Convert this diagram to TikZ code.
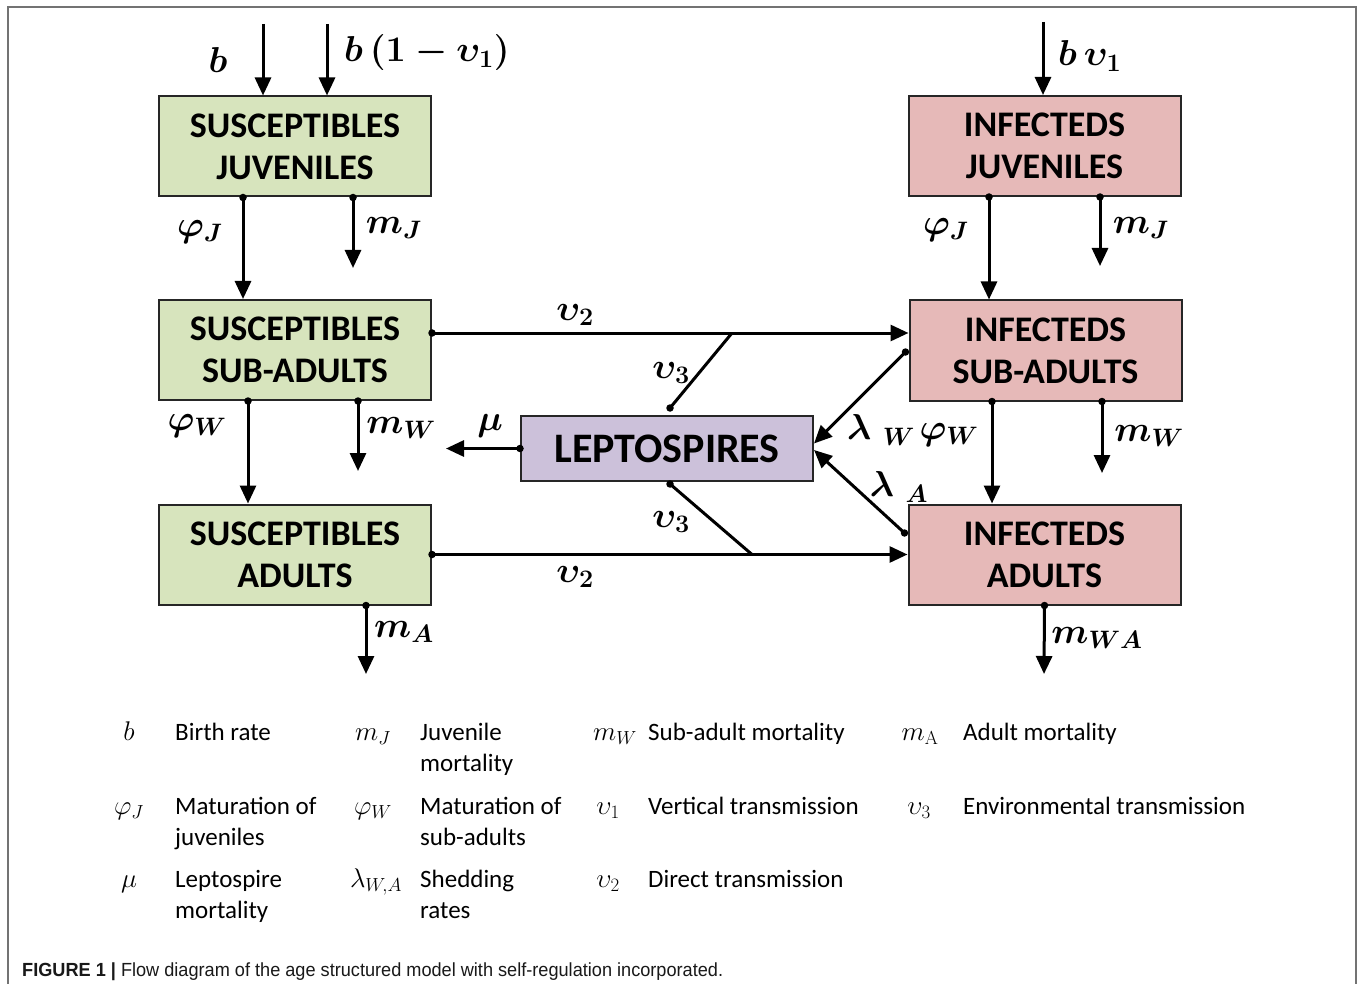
\RequirePackage{fix-cm}
\documentclass[tikz,border=0pt]{standalone}
\usepackage{amsmath}
\usepackage[no-math]{fontspec}
\setmainfont{Carlito}
\newfontfamily\capfont[FakeStretch=0.955]{Liberation Sans}
\usetikzlibrary{arrows.meta}
\definecolor{susc}{HTML}{D7E4BD}
\definecolor{infc}{HTML}{E6B9B8}
\definecolor{lepc}{HTML}{CCC1DA}
\definecolor{edge}{HTML}{262626}
\begin{document}
\begin{tikzpicture}[x=1pt,y=-1pt,
  box/.style={draw=edge,line width=2pt,minimum width=272pt,minimum height=100pt,align=center,inner sep=0pt,
    font=\fontsize{36}{42}\selectfont\bfseries},
  sus/.style={box,fill=susc},
  inf/.style={box,fill=infc},
  flow/.style={line width=3pt,-{Triangle[length=18pt,width=16pt]}},
  link/.style={line width=3pt},
  sdot/.style={circle,fill,inner sep=0pt,minimum size=7.5pt},
  lab/.style={inner sep=0pt,font=\fontsize{36}{42}\selectfont\boldmath},
  legt/.style={anchor=base west,inner sep=0pt,font=\fontsize{25}{31}\selectfont},
  legm/.style={anchor=base,inner sep=0pt,font=\fontsize{27}{31}\selectfont}]
\useasboundingbox (0,0) rectangle (1360,984);
\fill[white] (0,0) rectangle (1360,984);
\draw[black!55,line width=1.5pt] (8,984) -- (8,7) -- (1356,7) -- (1356,984);

% compartments
\node[sus] (sj) at (295,146.5) {SUSCEPTIBLES\\JUVENILES};
\node[sus] (ss) at (295,350) {SUSCEPTIBLES\\SUB-ADULTS};
\node[sus] (sa) at (295,554.5) {SUSCEPTIBLES\\ADULTS};
\node[inf] (ij) at (1044.5,146) {INFECTEDS\\JUVENILES};
\node[inf] (is) at (1045.5,350.5) {INFECTEDS\\SUB-ADULTS};
\node[inf] (ia) at (1044.5,554.5) {INFECTEDS\\ADULTS};
\node[box,fill=lepc,minimum width=292pt,minimum height=65pt,font=\fontsize{42}{48}\selectfont\bfseries] (lp) at (667,448.5) {LEPTOSPIRES};

% free ends
\coordinate (bS) at (263,24);
\coordinate (b1) at (327,24);
\coordinate (bI) at (1043,22);
\coordinate (mJs) at (353,268);
\coordinate (mJi) at (1100,266);
\coordinate (mWs) at (358,471);
\coordinate (mWi) at (1102,473);
\coordinate (mAs) at (366,674);
\coordinate (mWA) at (1044,674);
\coordinate (muE) at (446,448.5);
\coordinate (v3t) at (732,333);
\coordinate (v3b) at (752,554.5);

% births
\draw[flow] (bS) -- (bS |- sj.north);
\draw[flow] (b1) -- (b1 |- sj.north);
\draw[flow] (bI) -- (bI |- ij.north);

% maturation and mortality
\draw[flow] ([xshift=-52pt]sj.south) node[sdot]{} -- ([xshift=-52pt]ss.north);
\draw[flow] ([xshift=58pt]sj.south) node[sdot]{} -- (mJs);
\draw[flow] ([xshift=-47pt]ss.south) node[sdot]{} -- ([xshift=-47pt]sa.north);
\draw[flow] ([xshift=63pt]ss.south) node[sdot]{} -- (mWs);
\draw[flow] ([xshift=71pt]sa.south) node[sdot]{} -- (mAs);
\draw[flow] ([xshift=-55.5pt]ij.south) node[sdot]{} -- ([xshift=-56.5pt]is.north);
\draw[flow] ([xshift=55.5pt]ij.south) node[sdot]{} -- (mJi);
\draw[flow] ([xshift=-53.5pt]is.south) node[sdot]{} -- ([xshift=-52.5pt]ia.north);
\draw[flow] ([xshift=56.5pt]is.south) node[sdot]{} -- (mWi);
\draw[flow] (ia.south) node[sdot]{} -- (mWA);

% transmission
\draw[flow] ([yshift=17pt]ss.east) node[sdot]{} coordinate (v2s) -- (v2s -| is.west);
\draw[flow] (sa.east) node[sdot]{} -- (sa.east -| ia.west);
\draw[link] ([xshift=3pt,yshift=7pt]lp.north) node[sdot]{} -- (v3t);
\draw[link] ([xshift=3pt,yshift=-2pt]lp.south) node[sdot]{} -- (v3b);
\draw[flow] (lp.west) node[sdot]{} -- (muE);
\draw[flow] ([xshift=-3pt,yshift=-1.5pt]is.west) node[sdot]{} -- ([yshift=5pt]lp.east);
\draw[flow] ([xshift=-3pt,yshift=21.5pt]ia.west) node[sdot]{} -- ([yshift=-1.5pt]lp.east);

% rate labels
\node[lab] (Lb) at (218,60) {$b$};
\node[lab,anchor=west] (Lb1) at (344,53) {$b\,(1-\upsilon_1)$};
\node[lab,anchor=west] (LbI) at (1058,56) {$b\,\upsilon_1$};
\node[lab] (LpJs) at (200,232) {$\varphi_J$};
\node[lab] (LmJs) at (394,228) {$m_J$};
\node[lab] (LpJi) at (946,230) {$\varphi_J$};
\node[lab] (LmJi) at (1141,228) {$m_J$};
\node[lab] (LpWs) at (197,426) {$\varphi_W$};
\node[lab] (LmWs) at (401,428) {$m_W$};
\node[lab] (LpWi) at (949,435) {$\varphi_W$};
\node[lab] (LmWi) at (1149,436) {$m_W$};
\node[lab] (LmA) at (404,632) {$m_A$};
\node[lab] (LmWA) at (1097,638) {$m_{WA}$};
\node[lab] (Lv2t) at (575,315) {$\upsilon_2$};
\node[lab] (Lv2b) at (575,577) {$\upsilon_2$};
\node[lab] (Lv3t) at (671,373) {$\upsilon_3$};
\node[lab] (Lv3b) at (671,522) {$\upsilon_3$};
\node[lab] (Lmu) at (490,426) {$\mu$};
\node[lab] (LlW) at (881,430) {$\lambda\;{}_W$};
\node[lab] (LlA) at (899,487) {$\lambda\;{}_A$};

% legend
\node[legm] (s1) at (129,740) {$b$};
\node[legt] (t1) at (175,740) {Birth rate};
\node[legm] (s2) at (373,740) {$m_J$};
\node[legt] (t2) at (420,740) {Juvenile};
\node[legt] (t2b) at (420,771) {mortality};
\node[legm] (s3) at (615,740) {$m_W$};
\node[legt] (t3) at (648,740) {Sub-adult mortality};
\node[legm] (s4) at (920,740) {$m_{\mathrm{A}}$};
\node[legt] (t4) at (963,740) {Adult mortality};

\node[legm] (s5) at (129,814) {$\varphi_J$};
\node[legt] (t5) at (175,814) {Maturation of};
\node[legt] (t5b) at (175,845) {juveniles};
\node[legm] (s6) at (373,814) {$\varphi_W$};
\node[legt] (t6) at (420,814) {Maturation of};
\node[legt] (t6b) at (420,845) {sub-adults};
\node[legm] (s7) at (608,814) {$\upsilon_1$};
\node[legt] (t7) at (648,814) {Vertical transmission};
\node[legm] (s8) at (919,814) {$\upsilon_3$};
\node[legt] (t8) at (963,814) {Environmental transmission};

\node[legm] (s9) at (129,887) {$\mu$};
\node[legt] (t9) at (175,887) {Leptospire};
\node[legt] (t9b) at (175,918) {mortality};
\node[legm] (s10) at (376,887) {$\lambda_{W,A}$};
\node[legt] (t10) at (420,887) {Shedding};
\node[legt] (t10b) at (420,918) {rates};
\node[legm] (s11) at (608,887) {$\upsilon_2$};
\node[legt] (t11) at (648,887) {Direct transmission};

% caption
\node[anchor=base west,inner sep=0pt,text=black!90,font=\capfont\fontsize{19}{21}\selectfont] (cap) at (22,976)
  {\textbf{FIGURE 1 |} Flow diagram of the age structured model with self-regulation incorporated.};
\end{tikzpicture}
\end{document}
